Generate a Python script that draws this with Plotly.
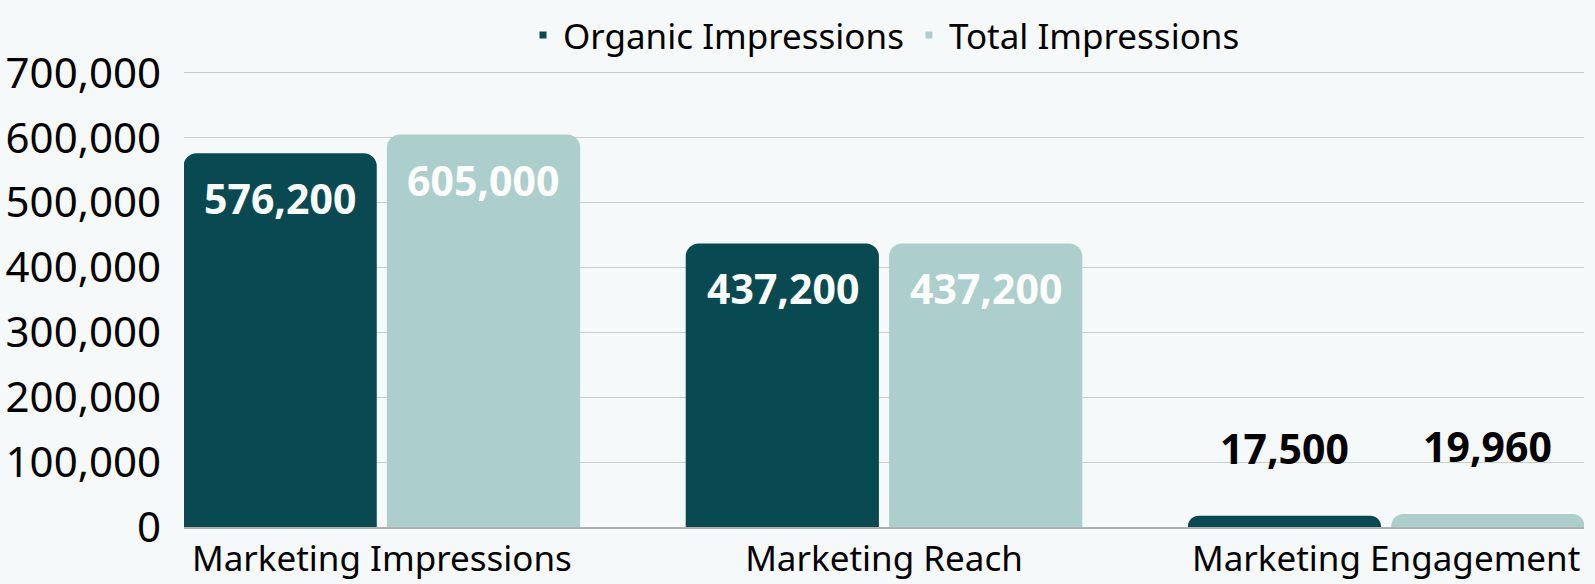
import plotly.graph_objects as go

categories = ["Marketing Impressions", "Marketing Reach", "Marketing Engagement"]
organic = [576200, 437200, 17500]
total = [605000, 437200, 19960]
series_names = ["Organic Impressions", "Total Impressions"]
y_ticks = [0, 100000, 200000, 300000, 400000, 500000, 600000, 700000]

DARK = "#094a52"
LIGHT = "#accecc"
BG = "#f6f9fa"
FONT = "Noto Sans"

fig = go.Figure()

for name, vals, color in [(series_names[0], organic, DARK), (series_names[1], total, LIGHT)]:
    fig.add_trace(go.Bar(
        x=categories,
        y=vals,
        name=name,
        marker=dict(color=color, line=dict(width=0)),
        showlegend=False,
        legendgroup=name,
        hoverinfo="x+y",
    ))
    # small square legend markers like the original
    fig.add_trace(go.Scatter(
        x=[None], y=[None],
        mode="markers",
        name=name,
        legendgroup=name,
        marker=dict(symbol="square", size=7, color=color),
    ))

# data labels: inside near the top for tall bars, floating above for short ones
for vals, shift in [(organic, -101.5), (total, 101.5)]:
    for cat, v in zip(categories, vals):
        inside = v > 100000
        fig.add_annotation(
            x=cat, y=v,
            text=f"{v:,}",
            showarrow=False,
            xshift=shift,
            yshift=-45 if inside else 68,
            yanchor="middle",
            font=dict(family=FONT, size=41, color="white" if inside else "black", weight="bold"),
        )

fig.update_layout(
    width=1595,
    height=584,
    margin=dict(l=184, r=11, t=71, b=57, autoexpand=False),
    paper_bgcolor=BG,
    plot_bgcolor=BG,
    barmode="group",
    bargap=0.19,
    bargroupgap=0.05,
    barcornerradius=13,
    font=dict(family=FONT, size=34, color="black"),
    legend=dict(
        orientation="h",
        x=0.5, xanchor="center",
        y=0.99, yanchor="top",
        yref="container",
        font=dict(family=FONT, size=35, color="black"),
        itemwidth=30,
        bgcolor="rgba(0,0,0,0)",
    ),
)

fig.update_xaxes(
    range=[-0.394, 2.394],
    showgrid=False,
    showline=True,
    linecolor="#aeb2b3",
    linewidth=1.5,
    ticks="",
    tickfont=dict(family=FONT, size=35),
)
fig.update_yaxes(
    range=[0, 703000],
    tickmode="array",
    tickvals=y_ticks,
    ticktext=[f"{t:,}" for t in y_ticks],
    showgrid=True,
    gridcolor="#c9cdce",
    gridwidth=1,
    zeroline=False,
    ticks="",
    ticklabelstandoff=22,
    tickfont=dict(family=FONT, size=42),
)

# drop the default 8px page margin so the figure fills the window
fig.write_html(
    "out.html",
    config={"displayModeBar": False},
    post_script="document.body.style.margin='0';document.body.style.background='%s';" % BG,
)
